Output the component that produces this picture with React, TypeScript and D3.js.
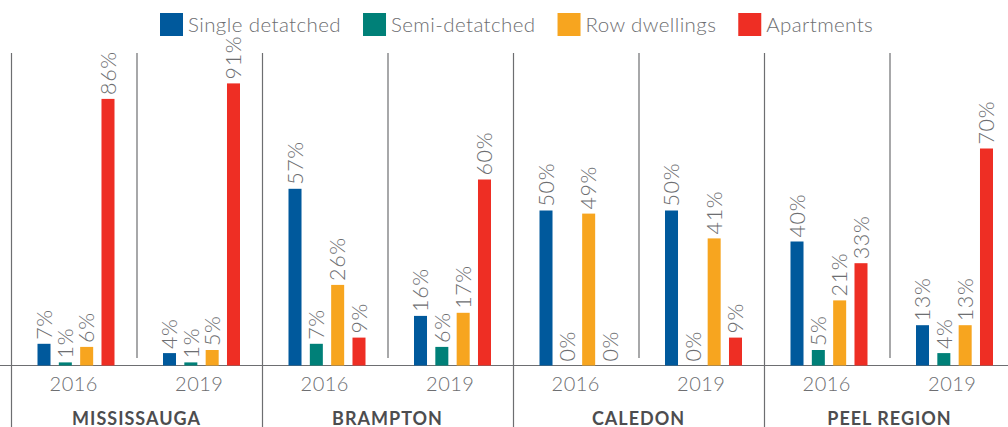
import React, { useEffect, useRef } from 'react';
import * as d3 from 'd3';

const width = 1008;
const height = 427;

const regions = ['MISSISSAUGA', 'BRAMPTON', 'CALEDON', 'PEEL REGION'];
const years = ['2016', '2019'];
const seriesNames = ['Single detatched', 'Semi-detatched', 'Row dwellings', 'Apartments'];
const seriesColors = ['#00599c', '#008078', '#f7a51f', '#ee2e24'];

// values in region/year order: MIS 2016, MIS 2019, BRA 2016, BRA 2019, ...
const singleDetached = [7, 4, 57, 16, 50, 50, 40, 13];
const semiDetached = [1, 1, 7, 6, 0, 0, 5, 4];
const rowDwellings = [6, 5, 26, 17, 49, 41, 21, 13];
const apartments = [86, 91, 9, 60, 0, 9, 33, 70];

const seriesValues = [singleDetached, semiDetached, rowDwellings, apartments];

const textGray = '#6d6e71';
const lineGray = '#6d6e71';
const font = 'Lato, "Open Sans", sans-serif';

export default function App() {
  const ref = useRef<SVGSVGElement>(null);

  useEffect(() => {
    document.body.style.margin = '0';
    const svg = d3.select(ref.current);
    svg.selectAll('*').remove();

    const cells = regions.flatMap(r => years.map(y => `${r}|${y}`));

    const x = d3.scaleBand<string>().domain(cells).range([11, 11 + 125.5 * cells.length]);
    const xRegion = d3.scaleBand<string>().domain(regions).range([11, 11 + 251 * regions.length]);
    const xInner = d3.scaleBand<string>().domain(seriesNames).range([26.5, 103.5]).paddingInner(0.39);
    const y = d3.scaleLinear().domain([0, 100]).range([365.5, 55.5]);

    // dividers
    const lineTop = 53;
    svg.append('g')
      .selectAll('line')
      .data(regions)
      .join('line')
      .attr('x1', d => xRegion(d)! + 0.5)
      .attr('x2', d => xRegion(d)! + 0.5)
      .attr('y1', lineTop)
      .attr('y2', height)
      .attr('stroke', lineGray)
      .attr('stroke-width', 1.2);

    svg.append('g')
      .selectAll('line')
      .data(regions)
      .join('line')
      .attr('x1', d => xRegion(d)! + xRegion.bandwidth() / 2 + 0.5)
      .attr('x2', d => xRegion(d)! + xRegion.bandwidth() / 2 + 0.5)
      .attr('y1', lineTop)
      .attr('y2', 358)
      .attr('stroke', lineGray)
      .attr('stroke-width', 1.2);

    // baseline
    svg.append('line')
      .attr('x1', 0)
      .attr('x2', width)
      .attr('y1', y(0))
      .attr('y2', y(0))
      .attr('stroke', lineGray)
      .attr('stroke-width', 1.2);

    // bars and labels
    const barData = cells.flatMap((c, i) =>
      seriesNames.map((s, j) => ({ cell: c, series: s, color: seriesColors[j], value: seriesValues[j][i] }))
    );

    const bars = svg.append('g');
    bars.selectAll('rect')
      .data(barData)
      .join('rect')
      .attr('x', d => x(d.cell)! + xInner(d.series)!)
      .attr('y', d => y(d.value))
      .attr('width', xInner.bandwidth())
      .attr('height', d => y(0) - y(d.value))
      .attr('fill', d => d.color);

    bars.selectAll('text')
      .data(barData)
      .join('text')
      .attr('transform', d =>
        `translate(${x(d.cell)! + xInner(d.series)! + xInner.bandwidth() / 2},${y(d.value) - 4}) rotate(-90)`)
      .attr('dy', '0.36em')
      .attr('font-family', font)
      .attr('font-weight', 300)
      .attr('font-size', 21.5)
      .attr('letter-spacing', 0.6)
      .attr('fill', textGray)
      .text(d => `${d.value}%`);

    // year labels
    svg.append('g')
      .selectAll('text')
      .data(cells)
      .join('text')
      .attr('x', d => x(d)! + x.bandwidth() / 2)
      .attr('y', 391)
      .attr('text-anchor', 'middle')
      .attr('font-family', font)
      .attr('font-weight', 300)
      .attr('font-size', 20)
      .attr('letter-spacing', 0.5)
      .attr('fill', textGray)
      .text(d => d.split('|')[1]);

    // region labels
    svg.append('g')
      .selectAll('text')
      .data(regions)
      .join('text')
      .attr('x', d => xRegion(d)! + xRegion.bandwidth() / 2)
      .attr('y', 425)
      .attr('text-anchor', 'middle')
      .attr('font-family', font)
      .attr('font-weight', 700)
      .attr('font-size', 18)
      .attr('letter-spacing', 1)
      .attr('fill', '#4d4d4f')
      .text(d => d);

    // legend
    const legend = svg.append('g');
    let lx = 160;
    seriesNames.forEach((s, i) => {
      const g = legend.append('g').attr('transform', `translate(${lx},13)`);
      g.append('rect').attr('width', 23).attr('height', 23).attr('fill', seriesColors[i]);
      const t = g.append('text')
        .attr('x', 28)
        .attr('y', 19)
        .attr('font-family', font)
        .attr('font-weight', 300)
        .attr('font-size', 20.5)
        .attr('letter-spacing', 0.4)
        .attr('fill', textGray)
        .text(s);
      const w = (t.node() as SVGTextElement).getComputedTextLength();
      lx += 28 + w + 22;
    });
  }, []);

  return <svg ref={ref} width={width} height={height} style={{ display: 'block' }} />;
}
